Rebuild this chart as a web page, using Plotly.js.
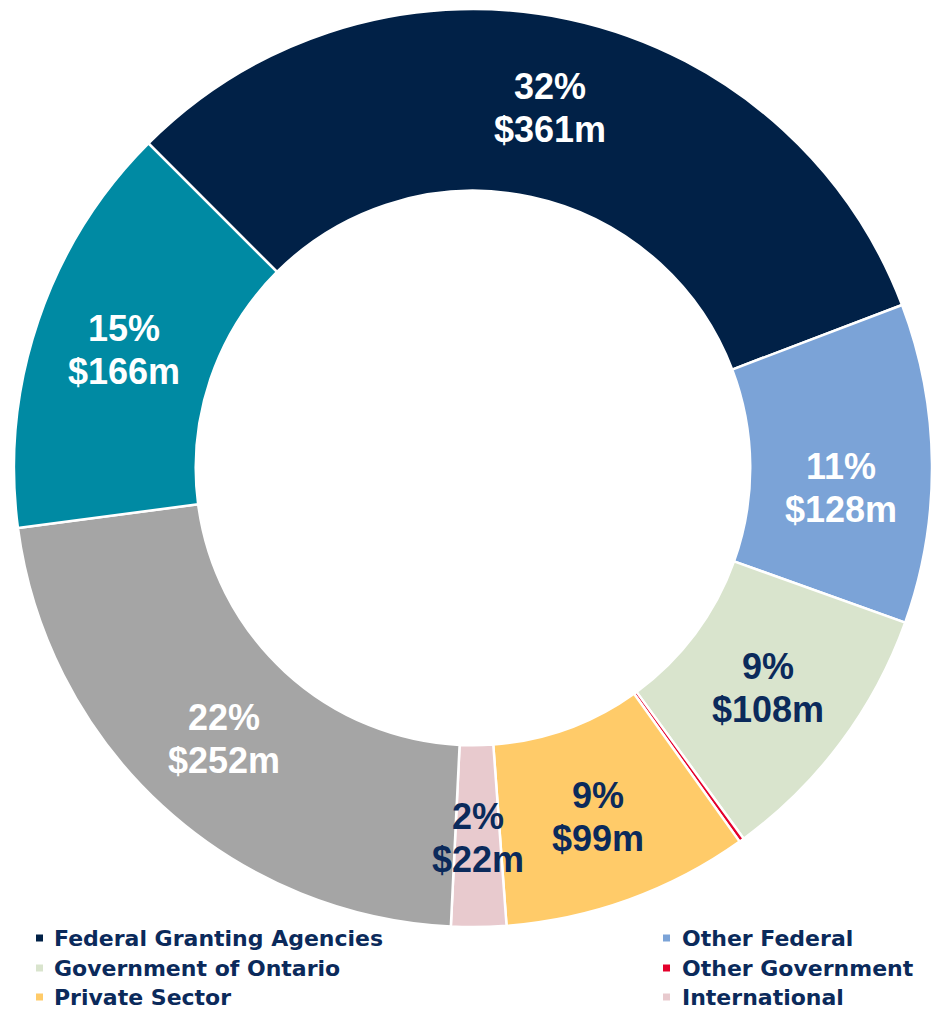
<!DOCTYPE html>
<html><head><meta charset="utf-8">
<script src="https://cdn.plot.ly/plotly-3.0.1.min.js"></script>
<style>html,body{margin:0;padding:0;background:#fff}</style>
</head><body><div id="chart" style="width:932px;height:1011px"></div>
<script>
// ---- data ----
const categories = ["Federal Granting Agencies","Other Federal","Government of Ontario","Other Government","Private Sector","International","Other Sources","Institutional"];
const valuesM = [361, 128, 108, 2, 99, 22, 252, 166];
const labelled = [true, true, true, false, true, true, true, true];
const legendCategories = ["Federal Granting Agencies","Other Federal","Government of Ontario","Other Government","Private Sector","International"];

// ---- styles ----
const sliceColors = ["#012147","#7BA3D7","#D9E4CD","#E4002B","#FFCB69","#E8CACE","#A5A5A5","#008AA3"];
const labelColors = ["#FFFFFF","#FFFFFF","#0B2A5B","#0B2A5B","#0B2A5B","#0B2A5B","#FFFFFF","#FFFFFF"];
const labelNudgePx = [0, 24, 0, 0, 3, 2, 0, 0]; // downward nudge of a slice label, in px
const textNavy = "#0B2A5B";

const W = 932, H = 1011;
const cx = 473, cyTop = 468, R = 459, hole = 0.604;
const rotation = -45;
const domX = [(cx - R) / W, (cx + R) / W];
const domY = [(H - cyTop - R) / H, (H - cyTop + R) / H];

const total = valuesM.reduce((a, b) => a + b, 0);
const annotations = [];
const rMid = R * (1 + hole) / 2;
let ang = rotation;
valuesM.forEach((v, i) => {
  const span = v / total * 360;
  const mid = (ang + span / 2) * Math.PI / 180;
  ang += span;
  if (!labelled[i]) return;
  const px = (cx + rMid * Math.sin(mid)) / W;
  const py = (H - cyTop + rMid * Math.cos(mid)) / H;
  const font = {family: "Liberation Sans, Arial, sans-serif", size: 36, color: labelColors[i], weight: "bold"};
  annotations.push({xref: "paper", yref: "paper", x: px, y: py, xanchor: "center", yanchor: "middle",
    yshift: 21.5 - labelNudgePx[i], showarrow: false, text: Math.round(v / total * 100) + "%", font: font});
  annotations.push({xref: "paper", yref: "paper", x: px, y: py, xanchor: "center", yanchor: "middle",
    yshift: -21.5 - labelNudgePx[i], showarrow: false, text: "$" + v + "m", font: font});
});

const shapes = [];
const colMarkerX = [39.5, 666.5], colTextX = [52, 680];
const rowY = [938, 968, 997];
legendCategories.forEach((name, i) => {
  const col = i % 2, row = Math.floor(i / 2);
  const ci = categories.indexOf(name);
  const mx = colMarkerX[col], my = rowY[row];
  shapes.push({type: "rect", xref: "paper", yref: "paper",
    x0: (mx - 3.5) / W, x1: (mx + 3.5) / W, y0: (H - my - 3.5) / H, y1: (H - my + 3.5) / H,
    fillcolor: sliceColors[ci], line: {width: 0}});
  annotations.push({xref: "paper", yref: "paper", x: colTextX[col] / W, y: (H - my) / H,
    xanchor: "left", yanchor: "middle", showarrow: false, text: "<b>" + name + "</b>",
    font: {family: "DejaVu Sans, Verdana, sans-serif", size: 22, color: textNavy}});
});

const trace = {
  type: "pie", labels: categories, values: valuesM, sort: false, direction: "clockwise",
  rotation: rotation, hole: hole, domain: {x: domX, y: domY},
  marker: {colors: sliceColors, line: {color: "#FFFFFF", width: 2.5}},
  textinfo: "none", hoverinfo: "label+value+percent", showlegend: false
};

const layout = {
  width: W, height: H, margin: {l: 0, r: 0, t: 0, b: 0},
  paper_bgcolor: "#FFFFFF", plot_bgcolor: "#FFFFFF",
  showlegend: false, annotations: annotations, shapes: shapes
};

Plotly.newPlot("chart", [trace], layout, {displayModeBar: false});
</script>
</body></html>
